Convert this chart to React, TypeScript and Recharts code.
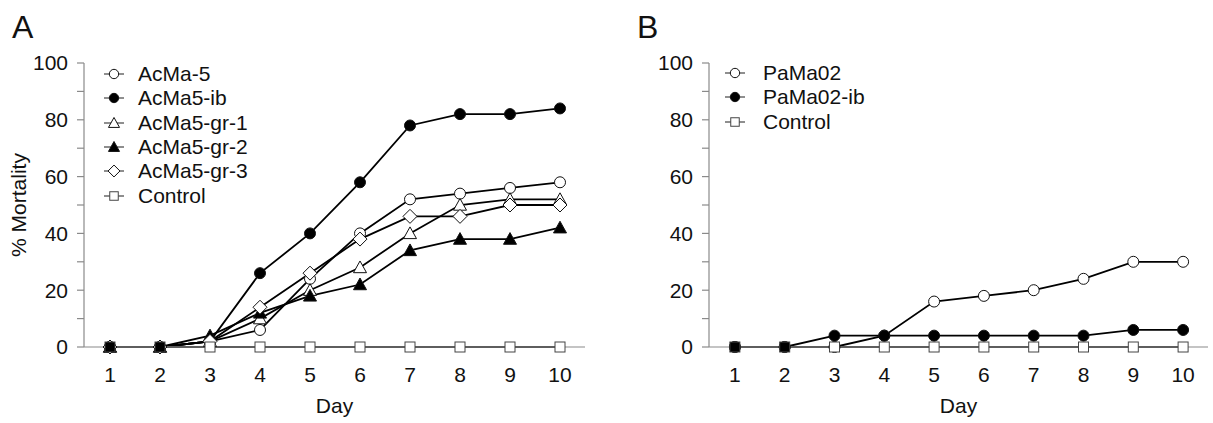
import React from 'react'
import { LineChart, Line, XAxis, YAxis } from 'recharts'

const DAYS = [1, 2, 3, 4, 5, 6, 7, 8, 9, 10]
const Y_TICKS = [0, 10, 20, 30, 40, 50, 60, 70, 80, 90, 100]

// Panel A
const acma5 = [0, 0, 2, 6, 24, 40, 52, 54, 56, 58]
const acma5Ib = [0, 0, 2, 26, 40, 58, 78, 82, 82, 84]
const acma5Gr1 = [0, 0, 2, 10, 20, 28, 40, 50, 52, 52]
const acma5Gr2 = [0, 0, 4, 12, 18, 22, 34, 38, 38, 42]
const acma5Gr3 = [0, 0, 2, 14, 26, 38, 46, 46, 50, 50]
const controlA = [0, 0, 0, 0, 0, 0, 0, 0, 0, 0]

// Panel B
const pama02 = [0, 0, 0, 4, 16, 18, 20, 24, 30, 30]
const pama02Ib = [0, 0, 4, 4, 4, 4, 4, 4, 6, 6]
const controlB = [0, 0, 0, 0, 0, 0, 0, 0, 0, 0]

const FONT = '"Liberation Sans", Arial, sans-serif'
const AXIS = '#8a8a8a'

type Kind = 'circle' | 'triangle' | 'diamond' | 'square'

interface Series {
  key: string
  name: string
  values: number[]
  kind: Kind
  filled: boolean
}

const seriesA: Series[] = [
  { key: 'a5', name: 'AcMa-5', values: acma5, kind: 'circle', filled: false },
  { key: 'a5ib', name: 'AcMa5-ib', values: acma5Ib, kind: 'circle', filled: true },
  { key: 'g1', name: 'AcMa5-gr-1', values: acma5Gr1, kind: 'triangle', filled: false },
  { key: 'g2', name: 'AcMa5-gr-2', values: acma5Gr2, kind: 'triangle', filled: true },
  { key: 'g3', name: 'AcMa5-gr-3', values: acma5Gr3, kind: 'diamond', filled: false },
  { key: 'ctl', name: 'Control', values: controlA, kind: 'square', filled: false },
]

const seriesB: Series[] = [
  { key: 'p', name: 'PaMa02', values: pama02, kind: 'circle', filled: false },
  { key: 'pib', name: 'PaMa02-ib', values: pama02Ib, kind: 'circle', filled: true },
  { key: 'ctl', name: 'Control', values: controlB, kind: 'square', filled: false },
]

function Marker({ kind, cx, cy, fill, s = 1 }: { kind: Kind; cx: number; cy: number; fill: string; s?: number }) {
  const stroke = kind === 'square' ? '#444' : '#111'
  if (kind === 'circle') return <circle cx={cx} cy={cy} r={5.5 * s} fill={fill} stroke={stroke} strokeWidth={1} />
  if (kind === 'triangle') {
    const h = 6.5 * s
    return <polygon points={`${cx},${cy - h} ${cx - h},${cy + h * 0.8} ${cx + h},${cy + h * 0.8}`} fill={fill} stroke={stroke} strokeWidth={1} />
  }
  if (kind === 'diamond') {
    const h = 7 * s
    return <polygon points={`${cx},${cy - h} ${cx + h},${cy} ${cx},${cy + h} ${cx - h},${cy}`} fill={fill} stroke={stroke} strokeWidth={1} />
  }
  const h = 5 * s
  return <rect x={cx - h} y={cy - h} width={2 * h} height={2 * h} fill={fill} stroke={stroke} strokeWidth={1} />
}

function Panel({ series, yAxisWidth, right, yLabel }: { series: Series[]; yAxisWidth: number; right: number; yLabel: boolean }) {
  const data = DAYS.map((day, i) => {
    const row: Record<string, number> = { day }
    for (const s of series) row[s.key] = s.values[i]
    return row
  })

  return (
    <LineChart width={606} height={423} data={data} margin={{ top: 63, right, bottom: 16, left: 0 }}>
      <XAxis
        dataKey="day"
        type="number"
        domain={[0.48, 10.5]}
        ticks={DAYS}
        allowDataOverflow
        height={60}
        tickLine={false}
        tickMargin={14}
        axisLine={{ stroke: AXIS, strokeWidth: 1.2 }}
        tick={{ fontSize: 21, fill: '#111', fontFamily: FONT }}
        label={{
          content: (p: any) => (
            <text x={p.viewBox.x + p.viewBox.width / 2} y={p.viewBox.y + 66} textAnchor="middle" fontSize={21} fontFamily={FONT} fill="#111">
              Day
            </text>
          ),
        }}
      />
      <YAxis
        type="number"
        domain={[0, 100]}
        ticks={Y_TICKS}
        interval={0}
        width={yAxisWidth}
        tickSize={7}
        tickMargin={9}
        tickLine={{ stroke: AXIS, strokeWidth: 1.2 }}
        axisLine={{ stroke: AXIS, strokeWidth: 1.2 }}
        tickFormatter={(v: number) => (v % 20 === 0 ? String(v) : '')}
        tick={{ fontSize: 21, fill: '#111', fontFamily: FONT }}
        label={
          yLabel
            ? {
                content: (p: any) => {
                  const cy = p.viewBox.y + p.viewBox.height / 2
                  return (
                    <text x={18} y={cy} transform={`rotate(-90 18 ${cy})`} textAnchor="middle" dominantBaseline="central" fontSize={21} fontFamily={FONT} fill="#111">
                      % Mortality
                    </text>
                  )
                },
              }
            : undefined
        }
      />
      {series.map(s => (
        <Line
          key={s.key}
          type="linear"
          dataKey={s.key}
          stroke={s.kind === 'square' ? '#333' : '#000'}
          strokeWidth={1.8}
          isAnimationActive={false}
          dot={(p: any) => (
            <Marker
              key={`${s.key}-${p.index}`}
              kind={s.kind}
              cx={p.cx}
              cy={p.cy}
              // control squares under the stacked markers at days 1-2 show as solid black
              fill={s.filled || (s.kind === 'square' && p.index < 2) ? '#000' : '#fff'}
            />
          )}
          activeDot={false}
        />
      ))}
    </LineChart>
  )
}

function ChartLegend({ series, left, top, rowH, gap }: { series: Series[]; left: number; top: number; rowH: number; gap: number }) {
  return (
    <div style={{ position: 'absolute', left, top }}>
      {series.map(s => (
        <div key={s.key} style={{ display: 'flex', alignItems: 'center', height: rowH }}>
          <svg width={30} height={18} style={{ marginRight: gap }}>
            <line x1={5} x2={25} y1={9} y2={9} stroke="#444" strokeWidth={1.2} />
            <Marker kind={s.kind} cx={15} cy={9} fill={s.filled ? '#000' : '#fff'} s={0.85} />
          </svg>
          <span style={{ fontSize: 21, fontFamily: FONT, color: '#111' }}>{s.name}</span>
        </div>
      ))}
    </div>
  )
}

export default function App() {
  return (
    <div style={{ position: 'absolute', left: 0, top: 0, width: 1213, height: 423, background: '#fff' }}>
      <div style={{ position: 'absolute', left: 0, top: 0 }}>
        <Panel series={seriesA} yAxisWidth={84} right={21} yLabel />
      </div>
      <div style={{ position: 'absolute', left: 606, top: 0 }}>
        <Panel series={seriesB} yAxisWidth={103} right={4} yLabel={false} />
      </div>
      <div style={{ position: 'absolute', left: 12, top: 11, fontSize: 32, lineHeight: '32px', fontFamily: FONT, color: '#111' }}>A</div>
      <div style={{ position: 'absolute', left: 637, top: 11, fontSize: 32, lineHeight: '32px', fontFamily: FONT, color: '#111' }}>B</div>
      <ChartLegend series={seriesA} left={99} top={62} rowH={24.3} gap={9} />
      <ChartLegend series={seriesB} left={720} top={61} rowH={24.3} gap={13} />
    </div>
  )
}
